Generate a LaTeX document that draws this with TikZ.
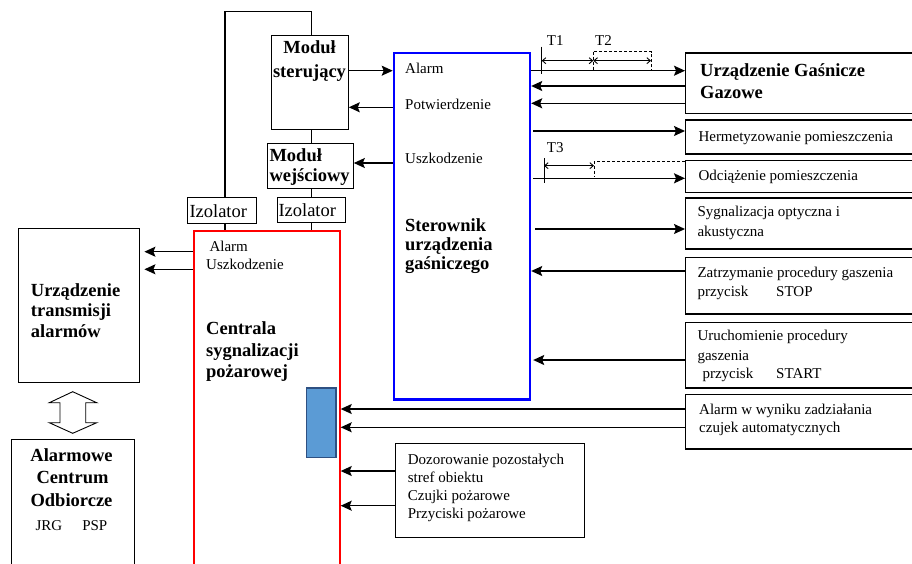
\documentclass[tikz,border=0pt]{standalone}
\usepackage{fontspec}
\setmainfont{Liberation Serif}
\usetikzlibrary{arrows.meta}

\newcommand{\fsn}{\fontsize{15}{18}\selectfont}
\newcommand{\fsb}{\fontsize{18.5}{20}\selectfont\bfseries}
\newcommand{\fsi}{\fontsize{18.5}{20}\selectfont}

\definecolor{cspred}{RGB}{255,0,0}
\definecolor{sterblue}{RGB}{0,0,255}
\definecolor{indfill}{RGB}{91,155,213}
\definecolor{indedge}{RGB}{46,80,130}

\tikzset{
  box/.style={draw, line width=1.1pt, inner sep=0pt, anchor=north west},
  txt/.style={anchor=base west, inner sep=0pt, font=\fsn},
  txtb/.style={anchor=base west, inner sep=0pt, font=\fsb},
  ctrb/.style={anchor=base, inner sep=0pt, font=\fsb},
  ctrn/.style={anchor=base, inner sep=0pt, font=\fsn},
  txti/.style={anchor=base west, inner sep=0pt, font=\fsi},
  wire/.style={line width=1.2pt},
  arr/.style={line width=1.3pt, -{Stealth[length=11pt,width=10pt,inset=2pt]}},
  dim/.style={line width=0.9pt, {Straight Barb[length=3.5pt,width=6pt]}-{Straight Barb[length=3.5pt,width=6pt]}},
}

\begin{document}
\begin{tikzpicture}[x=1pt,y=-1pt]
\path[use as bounding box] (0,0) rectangle (912,563);
\clip (0,0) rectangle (912,563);
\fill[white] (0,0) rectangle (912,563);

% ---- main blocks ----
\node[box, minimum width=77pt, minimum height=93.7pt] (modS) at (270.7,35) {};
\node[box, minimum width=85.4pt, minimum height=45pt] (modW) at (267.3,143.3) {};
\node[box, minimum width=69pt, minimum height=26pt] (izoL) at (187.3,197.3) {};
\node[box, minimum width=68.6pt, minimum height=25.3pt] (izoR) at (276.7,196.7) {};
\node[box, draw=cspred, line width=2.2pt, minimum width=145.5pt, minimum height=400pt] (csp) at (193,230) {};
\node[box, draw=sterblue, line width=2.2pt, minimum width=136.3pt, minimum height=346.6pt] (ster) at (392.7,51.7) {};
\node[box, fill=indfill, draw=indedge, line width=1.6pt, minimum width=29.3pt, minimum height=69.4pt] (ind) at (305.7,387.3) {};

% ---- right column ----
\node[box, line width=1.3pt, minimum width=260pt, minimum height=60.4pt] (ugg) at (685,52.3) {};
\node[box, line width=1.3pt, minimum width=260pt, minimum height=34pt] (herm) at (685,119.3) {};
\node[box, line width=1.3pt, minimum width=260pt, minimum height=31.7pt] (odc) at (685,160) {};
\node[box, line width=1.3pt, minimum width=260pt, minimum height=51pt] (syg) at (685,197.3) {};
\node[box, line width=1.3pt, minimum width=260pt, minimum height=56.6pt] (zatrz) at (685,256.7) {};
\node[box, line width=1.3pt, minimum width=260pt, minimum height=65.6pt] (uruch) at (685,321.7) {};
\node[box, line width=1.3pt, minimum width=260pt, minimum height=54.3pt] (alarmw) at (685,394) {};
\node[box, minimum width=189.3pt, minimum height=93.4pt] (dozor) at (395,443.3) {};

% ---- left column ----
\node[box, minimum width=121pt, minimum height=154pt] (uta) at (18.3,228.3) {};
\node[box, minimum width=123.6pt, minimum height=180pt] (aco) at (10.7,439) {};

% ---- labels ----
\node[ctrb] (modSa) at (309.5,53.3) {Moduł};
\node[ctrb] (modSb) at (309.5,77.3) {sterujący};
\node[txtb] (modWa) at (269.3,161.7) {Moduł};
\node[txtb] (modWb) at (269.3,181) {wejściowy};
\node[txti] (izoLt) at (189.3,217.3) {Izolator};
\node[txti] (izoRt) at (278.3,216.5) {Izolator};

\node[txt] (sAl) at (405,73.3) {Alarm};
\node[txt] (sPo) at (405,109.3) {Potwierdzenie};
\node[txt] (sUs) at (405,163.3) {Uszkodzenie};
\node[txtb] (sta) at (405,231) {Sterownik};
\node[txtb] (stb) at (405,250) {urządzenia};
\node[txtb] (stc) at (405,269) {gaśniczego};

\node[txt] (lT1) at (546.7,45) {T1};
\node[txt] (lT2) at (595,45) {T2};
\node[txt] (lT3) at (546.7,152.7) {T3};

\node[txtb] (ugga) at (700,76.7) {Urządzenie Gaśnicze};
\node[txtb] (uggb) at (700,98.3) {Gazowe};
\node[txt] (hermt) at (698.3,141.7) {Hermetyzowanie pomieszczenia};
\node[txt] (odct) at (698.3,180) {Odciążenie pomieszczenia};
\node[txt] (syga) at (697.3,216.7) {Sygnalizacja optyczna i};
\node[txt] (sygb) at (697.3,236.7) {akustyczna};
\node[txt] (zata) at (697.3,277.3) {Zatrzymanie procedury gaszenia};
\node[txt] (zatb) at (697.3,296.7) {przycisk};
\node[txt] (zatc) at (776,296.7) {STOP};
\node[txt] (urua) at (697.3,340) {Uruchomienie procedury};
\node[txt] (urub) at (697.3,360) {gaszenia};
\node[txt] (uruc) at (702.3,378.3) {przycisk};
\node[txt] (urud) at (776,378.3) {START};
\node[txt] (alwa) at (699,414) {Alarm w wyniku zadziałania};
\node[txt] (alwb) at (699,432.3) {czujek automatycznych};
\node[txt] (doza) at (407.7,464.3) {Dozorowanie pozostałych};
\node[txt] (dozb) at (407.7,482.3) {stref obiektu};
\node[txt] (dozc) at (407.7,500) {Czujki pożarowe};
\node[txt] (dozd) at (407.7,518.3) {Przyciski pożarowe};

\node[txt] (cAl) at (209.3,251.7) {Alarm};
\node[txt] (cUs) at (206,269.3) {Uszkodzenie};
\node[txtb] (csa) at (206,334.3) {Centrala};
\node[txtb] (csb) at (206,356) {sygnalizacji};
\node[txtb] (csc) at (206,377) {pożarowej};

\node[txtb] (utaa) at (30.7,296) {Urządzenie};
\node[txtb] (utab) at (30.7,316.7) {transmisji};
\node[txtb] (utac) at (30.7,337.7) {alarmów};

\node[ctrb] (acoa) at (71.5,461.7) {Alarmowe};
\node[ctrb] (acob) at (72.5,483) {Centrum};
\node[ctrb] (acoc) at (71.5,506) {Odbiorcze};
\node[ctrn] (acod) at (71.5,530) {JRG\hspace{20pt}PSP};

% ---- wiring of the detection loop ----
\draw[wire] (izoL.north -| 225,0) |- (311.5,11.7) -- (modS.north -| 311.5,0);
\draw[wire] (modS.south -| 311.5,0) -- (modW.north -| 311.5,0);
\draw[wire] (modW.south -| 311.5,0) -- (izoR.north -| 311.5,0);
\draw[wire] (izoL.south -| 225,0) -- (csp.north -| 225,0);
\draw[wire] (izoR.south -| 311.5,0) -- (csp.north -| 311.5,0);

% ---- module <-> controller ----
\draw[arr] (modS.east |- 0,70.7) -- (ster.west |- 0,70.7);
\draw[arr] (ster.west |- 0,107.3) -- (modS.east |- 0,107.3);
\draw[arr] (ster.west |- 0,163) -- (modW.east |- 0,163);

% ---- controller <-> right column ----
\draw[arr] (ster.east |- 0,70.7) -- (ugg.west |- 0,70.7);
\draw[arr] (ugg.west |- 0,86) -- (ster.east |- 0,86);
\draw[arr] (ugg.west |- 0,103.3) -- (ster.east |- 0,103.3);
\draw[arr, shorten <=2pt] (ster.east |- 0,131) -- (herm.west |- 0,131);
\draw[arr, shorten <=2pt] (ster.east |- 0,178.3) -- (odc.west |- 0,178.3);
\draw[arr, shorten <=4pt] (ster.east |- 0,229) -- (syg.west |- 0,229);
\draw[arr] (zatrz.west |- 0,271) -- (ster.east |- 0,271);
\draw[arr, shorten >=2pt] (uruch.west |- 0,360) -- (ster.east |- 0,360);

% ---- inputs of the fire alarm panel ----
\draw[arr] (alarmw.west |- 0,409) -- (csp.east |- 0,409);
\draw[arr] (alarmw.west |- 0,427.3) -- (csp.east |- 0,427.3);
\draw[arr] (dozor.west |- 0,471) -- (csp.east |- 0,471);
\draw[arr] (dozor.west |- 0,505.7) -- (csp.east |- 0,505.7);

% ---- panel -> transmission device ----
\draw[arr, shorten >=4pt] (csp.west |- 0,251.7) -- (uta.east |- 0,251.7);
\draw[arr, shorten >=4pt] (csp.west |- 0,269.3) -- (uta.east |- 0,269.3);

% ---- time delays T1, T2, T3 ----
\coordinate (t1top) at (541.7,46.7);
\coordinate (t1bot) at (541.7,74);
\coordinate (t2a) at (593.3,60.7);
\coordinate (t2b) at (651,60.7);
\draw[line width=0.9pt] (t1top) -- (t1bot);
\draw[dim] (t1top |- t2a) -- (t2a);
\draw[dim] (t2a) -- (t2b);
\draw[line width=0.9pt, dash pattern=on 3pt off 2pt] (593.3,51.7) rectangle (651,70.7);

\coordinate (t3top) at (544,158.3);
\coordinate (t3bot) at (544,182.7);
\coordinate (t3a) at (594,165.7);
\draw[line width=0.9pt] (t3top) -- (t3bot);
\draw[dim] (t3top |- t3a) -- (t3a);
\draw[line width=0.9pt, dash pattern=on 3pt off 2pt] (odc.north west |- 0,161.7) -- (594,161.7) -- (594,177);

% ---- two-way link between transmission device and receiving centre ----
\draw[line width=0.9pt, fill=white]
  (72.7,391.7) -- (96.7,402.7) -- (85.7,402.7) -- (85.7,422.7) -- (96.7,422.7)
  -- (72.7,433.3) -- (49.3,422.7) -- (60,422.7) -- (60,402.7) -- (49.3,402.7) -- cycle;
\end{tikzpicture}
\end{document}
